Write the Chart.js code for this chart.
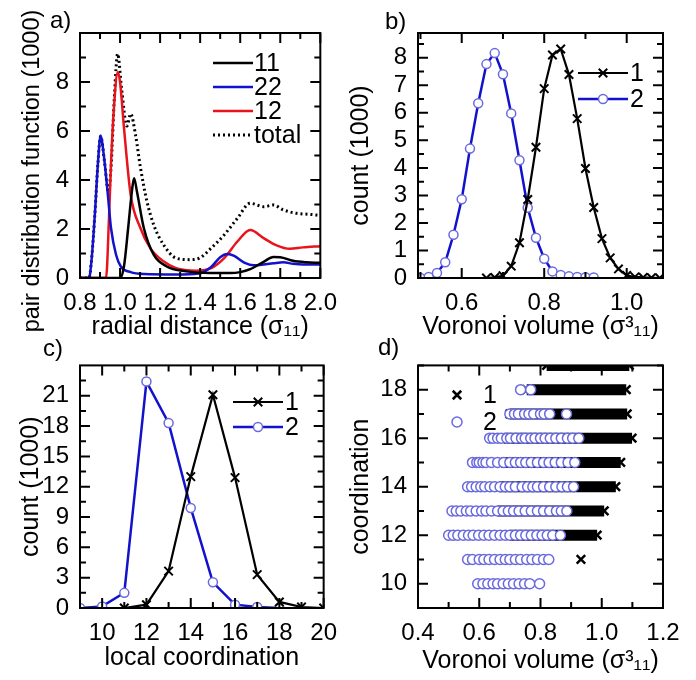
<!DOCTYPE html>
<html>
<head>
<meta charset="utf-8">
<script src="https://cdn.jsdelivr.net/npm/chart.js@4.4.1/dist/chart.umd.min.js"></script>
<style>
  body { margin: 0; background: #fff; }
  #wrap { position: relative; width: 696px; height: 680px; }
  canvas { position: absolute; }
  .tag { position: absolute; font: 24px "Liberation Sans", Arial, sans-serif; color: #000; }
</style>
</head>
<body>
<div id="wrap">
  <canvas id="pa" width="348" height="340" style="left:0;top:0"></canvas>
  <canvas id="pb" width="348" height="340" style="left:348px;top:0"></canvas>
  <canvas id="pc" width="348" height="340" style="left:0;top:340px"></canvas>
  <canvas id="pd" width="348" height="340" style="left:348px;top:340px"></canvas>
  <div class="tag" style="left:50px;top:6px">a)</div>
  <div class="tag" style="left:385px;top:7px">b)</div>
  <div class="tag" style="left:43px;top:334px">c)</div>
  <div class="tag" style="left:378px;top:333px">d)</div>
</div>
<script>
// Panel a: pair distribution functions ====================
const aR11 = [0.8, 1.0, 1.02, 1.04, 1.06, 1.07, 1.085, 1.119, 1.168, 1.233, 1.33, 1.45, 1.55, 1.6, 1.65, 1.717, 1.766, 1.8, 1.864, 1.93, 2.0];
const aG11 = [0, 0, 0.5, 2.0, 3.6, 4.07, 3.5, 2.03, 0.95, 0.47, 0.27, 0.2, 0.2, 0.24, 0.36, 0.66, 0.86, 0.85, 0.7, 0.64, 0.62];

const aR22 = [0.8, 0.845, 0.857, 0.874, 0.89, 0.903, 0.919, 0.939, 0.955, 0.98, 1.004, 1.053, 1.12, 1.28, 1.39, 1.455, 1.5, 1.537, 1.57, 1.62, 1.668, 1.717, 1.766, 1.815, 1.864, 1.913, 2.0];
const aG22 = [0, 0, 0.68, 2.57, 4.74, 5.8, 5.0, 3.4, 2.03, 0.95, 0.47, 0.24, 0.16, 0.14, 0.18, 0.45, 0.85, 0.98, 0.9, 0.63, 0.52, 0.55, 0.6, 0.64, 0.58, 0.55, 0.55];

const aR12 = [0.8, 0.93, 0.945, 0.955, 0.97, 0.988, 1.0, 1.02, 1.053, 1.102, 1.151, 1.217, 1.28, 1.38, 1.455, 1.52, 1.586, 1.65, 1.717, 1.782, 1.848, 1.913, 2.0];
const aG12 = [0, 0, 2.5, 4.7, 7.0, 8.4, 8.0, 6.1, 3.4, 2.03, 1.22, 0.68, 0.4, 0.3, 0.4, 0.81, 1.49, 1.96, 1.63, 1.33, 1.19, 1.25, 1.3];

const aRTot = [0.8, 0.845, 0.857, 0.874, 0.89, 0.903, 0.923, 0.942, 0.955, 0.972, 0.988, 1.008, 1.034, 1.053, 1.078, 1.102, 1.135, 1.168, 1.217, 1.28, 1.347, 1.396, 1.455, 1.52, 1.586, 1.65, 1.717, 1.766, 1.815, 1.88, 1.946, 2.0];
const aGTot = [0, 0, 0.68, 2.57, 4.74, 5.8, 4.7, 3.5, 4.5, 7.45, 9.15, 7.7, 6.2, 6.7, 5.8, 4.5, 3.1, 2.17, 1.36, 0.81, 0.75, 0.81, 1.22, 1.76, 2.44, 3.05, 2.91, 2.98, 2.78, 2.64, 2.6, 2.55];

const aXTicks = [0.8, 1.0, 1.2, 1.4, 1.6, 1.8, 2.0];
const aXMinor = [0.9, 1.1, 1.3, 1.5, 1.7, 1.9];
const aYTicks = [0, 2, 4, 6, 8];
const aYMinor = [1, 3, 5, 7, 9];

// Panel b: Voronoi volume histograms ======================
const bV1 = [0.66, 0.68, 0.70, 0.72, 0.74, 0.76, 0.78, 0.80, 0.82, 0.84, 0.86, 0.88, 0.90, 0.92, 0.94, 0.96, 0.98, 1.00, 1.02, 1.04, 1.06, 1.08];
const bC1 = [0, 0.02, 0.08, 0.43, 1.28, 2.85, 4.75, 6.88, 8.1, 8.32, 7.39, 5.79, 3.98, 2.56, 1.43, 0.73, 0.33, 0.09, 0.04, 0.02, 0.01, 0];
const bV2 = [0.50, 0.52, 0.54, 0.56, 0.58, 0.60, 0.62, 0.64, 0.66, 0.68, 0.70, 0.72, 0.74, 0.76, 0.78, 0.80, 0.82, 0.84, 0.86, 0.88, 0.90, 0.92];
const bC2 = [0, 0.04, 0.18, 0.57, 1.57, 2.86, 4.7, 6.35, 7.77, 8.17, 7.4, 5.98, 4.28, 2.55, 1.46, 0.7, 0.24, 0.11, 0.06, 0.04, 0.03, 0.02];
const bXTicks = [0.6, 0.8, 1.0];
const bXMinor = [0.5, 0.7, 0.9];
const bYTicks = [0, 1, 2, 3, 4, 5, 6, 7, 8];
const bYMinor = [0.5, 1.5, 2.5, 3.5, 4.5, 5.5, 6.5, 7.5, 8.5];

// Panel c: local coordination histograms ==================
const cN1 = [11, 12, 13, 14, 15, 16, 17, 18, 19, 20];
const cC1 = [0, 0.33, 3.65, 13.0, 21.1, 12.9, 3.3, 0.6, 0.1, 0];
const cN2 = [9, 10, 11, 12, 13, 14, 15, 16, 17, 18];
const cC2 = [0, 0.16, 1.5, 22.4, 18.3, 9.9, 2.54, 0.33, 0.1, 0];
const cXTicks = [10, 12, 14, 16, 18, 20];
const cXMinor = [9, 11, 13, 15, 17, 19];
const cYTicks = [0, 3, 6, 9, 12, 15, 18, 21];
const cYMinor = [1.5, 4.5, 7.5, 10.5, 13.5, 16.5, 19.5, 22.5];

// Panel d: coordination vs Voronoi volume =================
const dRows1 = [19, 18, 17, 16, 15, 14, 13, 12, 11];
const dMin1 = [0.82, 0.755, 0.70, 0.68, 0.672, 0.665, 0.66, 0.70, 0.932];
const dMax1 = [1.09, 1.08, 1.083, 1.099, 1.062, 1.046, 1.008, 0.985, 0.932];
const dBlue18 = [0.735, 0.768];
const dBlue17 = [0.70, 0.715, 0.728, 0.748, 0.762, 0.778, 0.80, 0.812, 0.83, 0.885];
const dBlue16 = [0.634, 0.645, 0.66, 0.672, 0.69, 0.702, 0.72, 0.738, 0.75, 0.768, 0.782, 0.80, 0.815, 0.832, 0.85, 0.868, 0.888, 0.905, 0.925];
const dBlue15 = [0.578, 0.592, 0.60, 0.612, 0.622, 0.64, 0.66, 0.68, 0.70, 0.718, 0.735, 0.752, 0.77, 0.79, 0.81, 0.828, 0.848, 0.868, 0.89, 0.912];
const dBlue14 = [0.562, 0.575, 0.59, 0.605, 0.618, 0.635, 0.65, 0.668, 0.685, 0.70, 0.718, 0.74, 0.758, 0.775, 0.79, 0.81, 0.83, 0.85, 0.87, 0.888, 0.908];
const dBlue13 = [0.511, 0.525, 0.54, 0.558, 0.572, 0.59, 0.608, 0.622, 0.64, 0.66, 0.678, 0.695, 0.712, 0.73, 0.75, 0.77, 0.79, 0.81, 0.83, 0.852, 0.868, 0.886];
const dBlue12 = [0.50, 0.515, 0.53, 0.548, 0.565, 0.58, 0.598, 0.615, 0.632, 0.65, 0.668, 0.685, 0.70, 0.718, 0.735, 0.752, 0.77, 0.788, 0.805, 0.822, 0.84, 0.865];
const dBlue11 = [0.562, 0.578, 0.60, 0.615, 0.632, 0.65, 0.668, 0.685, 0.70, 0.718, 0.735, 0.755, 0.772, 0.79, 0.81, 0.827];
const dBlue10 = [0.595, 0.612, 0.628, 0.645, 0.66, 0.678, 0.695, 0.712, 0.73, 0.748, 0.765, 0.797];
const dXTicks = [0.4, 0.6, 0.8, 1.0, 1.2];
const dXMinor = [0.5, 0.7, 0.9, 1.1];
const dYTicks = [10, 12, 14, 16, 18];
const dYMinor = [9, 11, 13, 15, 17, 19];

// Helpers ==================================================
const FONT = '"Liberation Sans", Arial, Helvetica, sans-serif';
Chart.defaults.font.family = FONT;
Chart.defaults.font.size = 24;
Chart.defaults.color = '#000';

const pts = (xs, ys) => xs.map((x, i) => ({ x: x, y: ys[i] }));
const rowPts = (xs, row) => xs.map(x => ({ x: x, y: row }));

// inward ticks on all four sides + frame
const frame = {
    id: 'frame',
    afterDraw(chart, args, o) {
        const { ctx, chartArea: a, scales } = chart;
        const sx = scales.x, sy = scales.y;
        ctx.save();
        ctx.strokeStyle = '#000';
        ctx.lineWidth = 2;
        ctx.setLineDash([]);
        const tk = (vals, len) => {
            vals.forEach(v => {
                const px = sx.getPixelForValue(v);
                if (px < a.left - 1 || px > a.right + 1) return;
                ctx.beginPath();
                ctx.moveTo(px, a.bottom); ctx.lineTo(px, a.bottom - len);
                ctx.moveTo(px, a.top); ctx.lineTo(px, a.top + len);
                ctx.stroke();
            });
        };
        const tky = (vals, len) => {
            vals.forEach(v => {
                const py = sy.getPixelForValue(v);
                if (py < a.top - 1 || py > a.bottom + 1) return;
                ctx.beginPath();
                ctx.moveTo(a.left, py); ctx.lineTo(a.left + len, py);
                ctx.moveTo(a.right, py); ctx.lineTo(a.right - len, py);
                ctx.stroke();
            });
        };
        tk(o.xMajor, 10); tk(o.xMinor, 6);
        tky(o.yMajor, 10); tky(o.yMinor, 6);
        ctx.strokeRect(a.left, a.top, a.right - a.left, a.bottom - a.top);
        ctx.restore();
    }
};

// a y title that runs past the plot area (too long for the scale box)
const sideTitle = {
    id: 'sideTitle',
    afterDraw(chart, args, o) {
        if (!o.text) return;
        const ctx = chart.ctx;
        ctx.save();
        ctx.translate(o.x, o.y);
        ctx.rotate(-Math.PI / 2);
        ctx.font = o.size + 'px ' + FONT;
        ctx.fillStyle = '#000';
        ctx.textAlign = 'center';
        ctx.textBaseline = 'middle';
        ctx.fillText(o.text, 0, 0);
        ctx.restore();
    }
};

// legend drawn inside the plot area
const inLegend = {
    id: 'inLegend',
    afterDraw(chart, args, o) {
        if (!o.items) return;
        const ctx = chart.ctx;
        ctx.save();
        ctx.font = '25px ' + FONT;
        ctx.textBaseline = 'middle';
        o.items.forEach((idx, k) => {
            const ds = chart.data.datasets[idx];
            const y = o.y + k * o.rowH;
            if (o.lineLen) {
                ctx.strokeStyle = ds.borderColor;
                ctx.lineWidth = ds.borderWidth;
                ctx.setLineDash(ds.borderDash || []);
                ctx.beginPath();
                ctx.moveTo(o.x, y);
                ctx.lineTo(o.x + o.lineLen, y);
                ctx.stroke();
                ctx.setLineDash([]);
            }
            if (ds.pointRadius) {
                ctx.strokeStyle = ds.pointBorderColor || ds.borderColor;
                ctx.fillStyle = ds.pointBackgroundColor || '#fff';
                ctx.lineWidth = ds.pointBorderWidth || 1;
                Chart.helpers.drawPoint(ctx, {
                    pointStyle: ds.pointStyle, radius: o.markR || ds.pointRadius,
                    borderWidth: ds.pointBorderWidth || 1, rotation: 0
                }, o.x + (o.markX !== undefined ? o.markX : o.lineLen / 2), y);
            }
            ctx.fillStyle = '#000';
            ctx.fillText(ds.label, o.x + (o.textX !== undefined ? o.textX : o.lineLen + 2), y + 1);
        });
        ctx.restore();
    }
};

function axes(cfg) {
    return {
        x: {
            type: 'linear', min: cfg.xmin, max: cfg.xmax,
            grid: { display: false, drawTicks: false }, border: { display: false },
            afterBuildTicks: s => { s.ticks = cfg.xTicks.map(v => ({ value: v })); },
            afterFit: s => { s.height = cfg.xH; },
            ticks: { padding: 11, maxRotation: 0, autoSkip: false, callback: cfg.xFmt },
            title: { display: true, text: cfg.xTitle, font: { size: 25 }, padding: { top: 0, bottom: cfg.xTitlePad } }
        },
        y: {
            type: 'linear', min: cfg.ymin, max: cfg.ymax,
            grid: { display: false, drawTicks: false }, border: { display: false },
            afterBuildTicks: s => { s.ticks = cfg.yTicks.map(v => ({ value: v })); },
            afterFit: s => { s.width = cfg.yW; },
            ticks: { padding: 11, autoSkip: false, callback: v => String(v) },
            title: { display: cfg.yTitle !== '', text: cfg.yTitle, font: { size: 25 }, padding: { top: cfg.yTitlePad, bottom: 0 } }
        }
    };
}

const baseOpts = (pad) => ({
    responsive: false,
    animation: false,
    devicePixelRatio: 1,
    layout: { padding: pad },
    plugins: { legend: { display: false }, tooltip: { enabled: false } }
});

const RED = '#e8141c';
const BLUE = '#1212cc';
const CIRC = '#6a6ae0';

// Chart a ===================================================
const optA = baseOpts({ top: 33, right: 23, left: 0, bottom: 0 });
optA.scales = axes({
    xmin: 0.8, xmax: 2.0, ymin: 0, ymax: 10, xTicks: aXTicks, yTicks: aYTicks,
    xFmt: v => v.toFixed(1), xH: 62, yW: 80, xTitlePad: -2, yTitlePad: 16,
    xTitle: 'radial distance (σ₁₁)', yTitle: ''
});
optA.plugins.frame = { xMajor: aXTicks, xMinor: aXMinor, yMajor: aYTicks, yMinor: aYMinor };
optA.plugins.sideTitle = { text: 'pair distribution function (1000)', x: 33, y: 171, size: 23.5 };
optA.plugins.inLegend = { items: [0, 1, 2, 3], x: 213, y: 63, rowH: 24, lineLen: 40, textX: 41 };

new Chart(document.getElementById('pa'), {
    type: 'line',
    data: {
        datasets: [
            { label: '11', data: pts(aR11, aG11), borderColor: '#000', borderWidth: 2.5, pointRadius: 0, cubicInterpolationMode: 'monotone' },
            { label: '22', data: pts(aR22, aG22), borderColor: BLUE, borderWidth: 2.5, pointRadius: 0, cubicInterpolationMode: 'monotone' },
            { label: '12', data: pts(aR12, aG12), borderColor: RED, borderWidth: 2.5, pointRadius: 0, cubicInterpolationMode: 'monotone' },
            { label: 'total', data: pts(aRTot, aGTot), borderColor: '#000', borderWidth: 3, borderDash: [2, 3], pointRadius: 0, cubicInterpolationMode: 'monotone' }
        ]
    },
    options: optA,
    plugins: [frame, sideTitle, inLegend]
});

// Chart b ===================================================
const optB = baseOpts({ top: 33, right: 33, left: 0, bottom: 0 });
optB.scales = axes({
    xmin: 0.494, xmax: 1.088, ymin: 0, ymax: 8.9, xTicks: bXTicks, yTicks: bYTicks,
    xFmt: v => v.toFixed(1), xH: 62, yW: 70, xTitlePad: -2, yTitlePad: -2,
    xTitle: 'Voronoi volume (σ³₁₁)', yTitle: 'count (1000)'
});
optB.plugins.frame = { xMajor: bXTicks, xMinor: bXMinor, yMajor: bYTicks, yMinor: bYMinor };
optB.plugins.inLegend = { items: [0, 1], x: 230, y: 73, rowH: 26, lineLen: 50, textX: 52 };

new Chart(document.getElementById('pb'), {
    type: 'line',
    data: {
        datasets: [
            { label: '1', data: pts(bV1, bC1), borderColor: '#000', borderWidth: 2.2, pointStyle: 'crossRot', pointRadius: 6, pointBorderWidth: 2, pointBorderColor: '#000' },
            { label: '2', data: pts(bV2, bC2), borderColor: BLUE, borderWidth: 2.5, pointStyle: 'circle', pointRadius: 4.5, pointBorderWidth: 1.5, pointBorderColor: CIRC, pointBackgroundColor: '#fff' }
        ]
    },
    options: optB,
    plugins: [frame, inLegend]
});

// Chart c ===================================================
const optC = baseOpts({ top: 23, right: 23, left: 0, bottom: 0 });
optC.scales = axes({
    xmin: 9, xmax: 20, ymin: 0, ymax: 24, xTicks: cXTicks, yTicks: cYTicks,
    xFmt: v => String(v), xH: 72, yW: 80, xTitlePad: 7, yTitlePad: 16,
    xTitle: 'local coordination', yTitle: 'count (1000)'
});
optC.plugins.frame = { xMajor: cXTicks, xMinor: cXMinor, yMajor: cYTicks, yMinor: cYMinor };
optC.plugins.inLegend = { items: [0, 1], x: 233, y: 62, rowH: 25, lineLen: 50, textX: 52 };

new Chart(document.getElementById('pc'), {
    type: 'line',
    data: {
        datasets: [
            { label: '1', data: pts(cN1, cC1), borderColor: '#000', borderWidth: 2.2, pointStyle: 'crossRot', pointRadius: 6, pointBorderWidth: 2, pointBorderColor: '#000' },
            { label: '2', data: pts(cN2, cC2), borderColor: BLUE, borderWidth: 2.5, pointStyle: 'circle', pointRadius: 4.5, pointBorderWidth: 1.5, pointBorderColor: CIRC, pointBackgroundColor: '#fff' }
        ]
    },
    options: optC,
    plugins: [frame, inLegend]
});

// Chart d ===================================================
const blackBands = [];
dRows1.forEach((r, i) => {
    blackBands.push({ x: dMin1[i], y: r });
    if (dMax1[i] !== dMin1[i]) blackBands.push({ x: dMax1[i], y: r });
    blackBands.push({ x: dMax1[i] + 0.001, y: null });
});
const blueDots = [].concat(
    rowPts(dBlue18, 18), rowPts(dBlue17, 17), rowPts(dBlue16, 16), rowPts(dBlue15, 15),
    rowPts(dBlue14, 14), rowPts(dBlue13, 13), rowPts(dBlue12, 12), rowPts(dBlue11, 11), rowPts(dBlue10, 10)
);

const optD = baseOpts({ top: 23, right: 33, left: 0, bottom: 0 });
optD.scales = axes({
    xmin: 0.4, xmax: 1.2, ymin: 9, ymax: 19, xTicks: dXTicks, yTicks: dYTicks,
    xFmt: v => v.toFixed(1), xH: 72, yW: 70, xTitlePad: 4, yTitlePad: -2,
    xTitle: 'Voronoi volume (σ³₁₁)', yTitle: 'coordination'
});
optD.plugins.frame = { xMajor: dXTicks, xMinor: dXMinor, yMajor: dYTicks, yMinor: dYMinor };
optD.plugins.inLegend = { items: [0, 1], x: 109, y: 55, rowH: 27, lineLen: 0, markX: 0, textX: 26 };

new Chart(document.getElementById('pd'), {
    type: 'line',
    data: {
        datasets: [
            { label: '1', data: blackBands, order: 1, borderColor: '#000', borderWidth: 11, borderCapStyle: 'butt', spanGaps: false, pointStyle: 'crossRot', pointRadius: 6, pointBorderWidth: 2.5, pointBorderColor: '#000' },
            { label: '2', data: blueDots, order: 0, showLine: false, borderColor: CIRC, borderWidth: 1.5, pointStyle: 'circle', pointRadius: 5, pointBorderWidth: 1.5, pointBorderColor: CIRC, pointBackgroundColor: '#fff' }
        ]
    },
    options: optD,
    plugins: [frame, inLegend]
});
</script>
</body>
</html>
